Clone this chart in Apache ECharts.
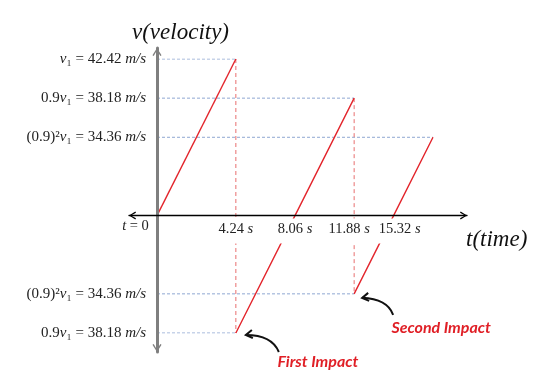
<!DOCTYPE html>
<html><head><meta charset="utf-8">
<script src="https://cdn.jsdelivr.net/npm/echarts@6/dist/echarts.min.js"></script>
<style>html,body{margin:0;padding:0;background:#fff}#c{width:534px;height:385px}</style>
</head><body><div id="c"></div>
<script>
// ---------------- data ----------------
const timeTicks = [0, 4.24, 8.06, 11.88, 15.32];
const timeTickLabels = ['t = 0', '4.24 s', '8.06 s', '11.88 s', '15.32 s'];
const velocityLevels = [42.42, 38.18, 34.36, -34.36, -38.18];
const velocityTickLabels = ['v₁ = 42.42 m/s', '0.9v₁ = 38.18 m/s', '(0.9)²v₁ = 34.36 m/s', '(0.9)²v₁ = 34.36 m/s', '0.9v₁ = 38.18 m/s'];
const flight1 = [[0, 0], [4.24, 42.42]];
const flight2 = [[4.24, -38.18], [8.06, 0], [11.88, 38.18]];
const flight3 = [[11.88, -34.36], [15.32, 0], [18.76, 34.36]];
const impacts = [[4.24, -38.18], [11.88, -34.36]];
const impactNames = ['First Impact', 'Second Impact'];
const axisTitles = ['v(velocity)', 't(time)'];

// ---------------- schematic layout (the sketch is not to scale) ----------------
const timeSlot = {'0': 0, '4.24': 4, '8.06': 7, '11.88': 10, '15.32': 12, '18.76': 14};
const velocitySlot = {'-38.18': 0, '-34.36': 1, '0': 3, '34.36': 5, '38.18': 6, '42.42': 7};
// horizontal nudges of some tick labels: [leading gap, trailing gap]
const xLabelNudge = {'0': [0, 43], '11.88': [0, 10], '15.32': [12, 0]};
function buildCats(slotMap) {
  const n = Math.max(...Object.values(slotMap)) + 1;
  const cats = [];
  for (let i = 0; i < n; i++) cats.push('gap' + i);
  for (const k in slotMap) cats[slotMap[k]] = k;
  return cats;
}
const timeCats = buildCats(timeSlot);
const velCats = buildCats(velocitySlot);
const key = v => String(v);
const toCat = pts => pts.map(([t, v]) => [key(t), key(v)]);

const SERIF = 'Liberation Serif';
const RED = '#e3262d';

const xLabelMap = {};
timeTicks.forEach((t, i) => {
  const lab = timeTickLabels[i];
  let s;
  if (t === 0) {
    s = lab.replace(/\bt\b/, '{ix|t}');
  } else {
    const parts = lab.split(' ');
    s = '{nb|' + parts[0] + ' }{ib|' + parts[1] + '}';
  }
  const n = xLabelNudge[key(t)];
  if (n) {
    if (n[0]) s = '{g' + n[0] + '|}' + s;
    if (n[1]) s = s + '{g' + n[1] + '|}';
  }
  xLabelMap[key(t)] = s;
});
const yLabelMap = {};
velocityLevels.forEach((v, i) => {
  yLabelMap[key(v)] = velocityTickLabels[i].replace(/v/g, '{iy|v}').replace('m/s', '{iy|m/s}');
});

// guides derived from the data
const allPts = [flight1, flight2, flight3].flat();
const hGuides = velocityLevels.map(v => {
  const p = allPts.find(q => q[1] === v);
  return [[0, v], [p[0], v]];
});
const vGuides = impacts.map(([t, v]) => {
  const peak = allPts.find(q => q[0] === t && q[1] > 0);
  return [[t, peak[1]], [t, v]];
});

const chev = 'path://M0,80 L50,0 L100,80 L86,88 L50,26 L14,88 Z';

const rich = {
  ix: {fontStyle: 'italic', fontFamily: SERIF, fontSize: 14.5, color: '#222'},
  nb: {fontFamily: SERIF, fontSize: 14.5, color: '#222', backgroundColor: '#fff', padding: [3, 0, 7, 2]},
  ib: {fontStyle: 'italic', fontFamily: SERIF, fontSize: 14.5, color: '#222', backgroundColor: '#fff', padding: [3, 2, 7, 0]},
  iy: {fontStyle: 'italic', fontFamily: SERIF, fontSize: 15, color: '#222'}
};
Object.values(xLabelNudge).flat().forEach(w => { if (w) rich['g' + w] = {width: w}; });

const series = [];
hGuides.forEach(g => series.push({type: 'line', xAxisIndex: 0, yAxisIndex: 0, data: toCat(g), symbol: 'none', silent: true, z: 1,
  lineStyle: {color: '#8fa7d2', width: 1, type: [3, 2]}}));
vGuides.forEach(g => series.push({type: 'line', xAxisIndex: 0, yAxisIndex: 0, data: toCat(g), symbol: 'none', silent: true, z: 1,
  lineStyle: {color: '#e86f6f', width: 1, type: [4, 3]}}));
[flight1, flight2, flight3].forEach(f => series.push({type: 'line', xAxisIndex: 0, yAxisIndex: 0, data: toCat(f), symbol: 'none', z: 3,
  lineStyle: {color: RED, width: 1.4}}));

const chart = echarts.init(document.getElementById('c'), null, {renderer: 'canvas'});
chart.setOption({
  animation: false,
  backgroundColor: '#fff',
  title: [
    {text: axisTitles[0], left: 127, top: 16, textStyle: {fontFamily: SERIF, fontStyle: 'italic', fontWeight: 'normal', fontSize: 23, color: '#111'}},
    {text: axisTitles[1], left: 461, top: 223, textStyle: {fontFamily: SERIF, fontStyle: 'italic', fontWeight: 'normal', fontSize: 23, color: '#111'}}
  ],
  grid: [
    {left: 157, right: 101, top: 59, bottom: 52},
    {left: 129, right: 67, top: 215.5, height: 0},
    {left: 157, width: 0, top: 48, bottom: 33}
  ],
  xAxis: [
    {gridIndex: 0, type: 'category', data: timeCats, boundaryGap: false, offset: -117.5, z: 10,
      axisLine: {show: false}, axisTick: {show: false}, splitLine: {show: false},
      axisLabel: {interval: 0, margin: 3, fontFamily: SERIF, fontSize: 14.5, color: '#222', rich,
        formatter: v => xLabelMap[v] || ''}},
    {gridIndex: 1, type: 'value', position: 'bottom', min: 0, max: 1, z: 11,
      axisLine: {show: true, onZero: false, lineStyle: {color: '#000', width: 1.3}, symbol: [chev, chev], symbolSize: [9, 7], symbolOffset: [3.5, -3.5]},
      axisTick: {show: false}, axisLabel: {show: false}, splitLine: {show: false}},
    {gridIndex: 2, type: 'value', show: false}
  ],
  yAxis: [
    {gridIndex: 0, type: 'category', data: velCats, boundaryGap: false,
      axisLine: {show: false}, axisTick: {show: false}, splitLine: {show: false},
      axisLabel: {interval: 0, margin: 11, fontFamily: SERIF, fontSize: 15, color: '#222', rich,
        formatter: v => yLabelMap[v] || ''}},
    {gridIndex: 1, type: 'value', show: false},
    {gridIndex: 2, type: 'value', position: 'left', min: 0, max: 1, z: 11,
      axisLine: {show: true, onZero: false, lineStyle: {color: '#7f7f7f', width: 3}, symbol: [chev, chev], symbolSize: [10, 8], symbolOffset: [4, -4]},
      axisTick: {show: false}, axisLabel: {show: false}, splitLine: {show: false}}
  ],
  series
});

// annotations anchored at the impact points
const tipOff = [[10, 2], [8, 4]];
const tailOff = [[43, 19], [39, 21]];
const ctrlOff = [[36, 2], [33, 5]];
const textOff = [[82, 29], [87, 34]];
const graphics = [];
impacts.forEach(([t, v], i) => {
  const P = chart.convertToPixel({gridIndex: 0}, [timeCats.indexOf(key(t)), velCats.indexOf(key(v))]);
  const tip = [P[0] + tipOff[i][0], P[1] + tipOff[i][1]];
  graphics.push({type: 'bezierCurve', silent: true,
    shape: {x1: P[0] + tailOff[i][0], y1: P[1] + tailOff[i][1], cpx1: P[0] + ctrlOff[i][0], cpy1: P[1] + ctrlOff[i][1], x2: tip[0], y2: tip[1]},
    style: {stroke: '#111', lineWidth: 2, fill: null}});
  graphics.push({type: 'polyline', silent: true,
    shape: {points: [[tip[0] + 6, tip[1] - 5], tip, [tip[0] + 7, tip[1] + 3]]},
    style: {stroke: '#111', lineWidth: 2, fill: null}});
  graphics.push({type: 'text', silent: true, x: P[0] + textOff[i][0], y: P[1] + textOff[i][1],
    style: {text: impactNames[i], align: 'center', verticalAlign: 'middle', fontFamily: 'Lato', fontStyle: 'italic', fontWeight: 'bold', fontSize: 16, fill: '#e01f26'}});
});
chart.setOption({graphic: graphics});
</script>
</body></html>
